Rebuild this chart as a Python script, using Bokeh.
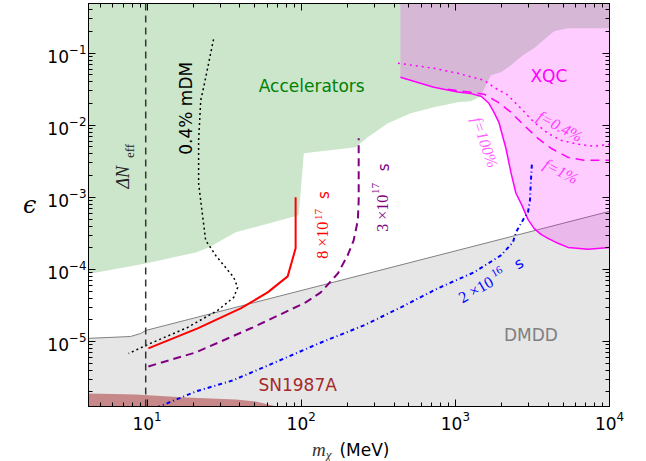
from bokeh.plotting import figure
from bokeh.models import Range1d, LogAxis, FixedTicker, LogTickFormatter, Label, Span, Div
from bokeh.layouts import column
from bokeh.embed import file_html
from bokeh.resources import INLINE

# ---------------- axis limits ----------------
x_lo, x_hi = 4.17, 1.0e4
y_lo, y_hi = 1.25e-6, 0.49
major_x = [1e1, 1e2, 1e3, 1e4]
major_y = [1e-5, 1e-4, 1e-3, 1e-2, 1e-1]

# ---------------- shaded regions ----------------
acc_m = [4.0, 9.8, 20.7, 25.1, 37.6, 96.4, 104, 226, 270, 365, 514, 725, 1037, 1262, 1466,
         1578, 1702, 1973, 2293, 2741, 3236, 4365, 5383, 11000, 11000, 4.0]
acc_eps = [8.5e-5, 1.21e-4, 1.72e-4, 2.02e-4, 3.27e-4, 5.62e-4, 4.08e-3, 4.95e-3, 6.81e-3,
           1.07e-2, 1.47e-2, 1.78e-2, 2.09e-2, 2.16e-2, 2.53e-2, 3.59e-2, 4.95e-2, 5.44e-2,
           6.81e-2, 9.38e-2, 0.117, 0.202, 0.222, 0.222, 1.0, 1.0]

dmdd_m = [4.0, 7.8, 9.1, 9.8, 1.0e4]
dmdd_eps = [1.10e-5, 1.17e-5, 1.29e-5, 1.42e-5, 6.39e-4]
dmdd_floor = 1.0e-6

sn_m = [4.0, 8.42, 17.8, 37.6, 50.7, 65.3, 73.6, 80.0, 4.0]
sn_eps = [1.90e-6, 1.84e-6, 1.67e-6, 1.56e-6, 1.47e-6, 1.29e-6, 1.21e-6, 1.0e-6, 1.0e-6]

xqc_m = [440, 725, 1037, 1262, 1466, 1651, 1778, 1916, 2128, 2293, 2471, 2704, 2958, 3236,
         3593, 3990, 4632, 5383, 7250, 10000]
xqc_eps = [0.0464, 0.0337, 0.029, 0.0275, 0.0253, 0.0202, 0.0152, 0.0110, 4.8e-3, 2.22e-3,
           1.14e-3, 7.74e-4, 4.95e-4, 3.71e-4, 3.06e-4, 2.70e-4, 2.30e-4, 2.02e-4, 1.90e-4, 2.02e-4]
xqc_top = 1.0

# XQC curves for smaller fractions
xqc04_m = [424, 725, 1037, 1532, 1778, 2193, 2661, 3236, 3990, 4842, 6237, 7925, 10000]
xqc04_eps = [0.0727, 0.0619, 0.0527, 0.0422, 0.0337, 0.0261, 0.0172, 0.0110, 7.74e-3,
             6.19e-3, 5.45e-3, 5.11e-3, 5.45e-3]
xqc1_m = [893, 1262, 1532, 1888, 2293, 2786, 3436, 4169, 5383, 6839, 10000]
xqc1_eps = [0.0316, 0.0287, 0.0270, 0.0209, 0.0152, 0.0100, 6.59e-3, 4.80e-3, 3.59e-3,
            3.27e-3, 3.27e-3]

# ---------------- lifetime / other curves ----------------
red_m = [10.2, 21.3, 40.5, 60.6, 81.7, 92.0, 92.0]
red_eps = [8.0e-6, 1.52e-5, 2.87e-5, 4.80e-5, 8.0e-5, 1.96e-4, 1.0e-3]

purple_m = [10.2, 20.7, 48.4, 107, 134, 173, 200, 219, 233, 236, 236]
purple_eps = [4.5e-6, 7.03e-6, 1.56e-5, 3.48e-5, 4.80e-5, 8.79e-5, 1.56e-4, 2.53e-4,
              4.80e-4, 9.08e-4, 6.59e-3]

blue_m = [11.5, 20.7, 35.9, 65.3, 130, 255, 443, 769, 1318, 1973, 2363, 2471, 2786, 2958,
          3048, 3092, 3140]
blue_eps = [1.2e-6, 2.02e-6, 2.87e-6, 4.95e-6, 9.38e-6, 1.67e-5, 2.97e-5, 5.45e-5, 9.08e-5,
            1.56e-4, 2.37e-4, 3.27e-4, 5.11e-4, 6.19e-4, 9.08e-4, 1.72e-3, 2.97e-3]

mdm_m = [27.0, 23.3, 22.3, 21.6, 21.6, 22.9, 24.0, 27.9, 36.5, 38.7, 36.5, 28.7, 18.3, 10.5, 7.59]
mdm_eps = [0.156, 0.0337, 0.0223, 6.19e-3, 1.56e-3, 5.62e-4, 2.53e-4, 1.56e-4, 7.74e-5,
           5.62e-5, 4.09e-5, 2.70e-5, 1.56e-5, 9.38e-6, 6.81e-6]

dneff_m = 9.8

# ---------------- figure ----------------
p = figure(x_axis_type="log", y_axis_type="log",
           x_range=Range1d(x_lo, x_hi), y_range=Range1d(y_lo, y_hi),
           frame_width=521, frame_height=403,
           min_border_left=88, min_border_right=30, min_border_top=3, min_border_bottom=28,
           output_backend="svg", toolbar_location=None)
p.grid.visible = False
p.outline_line_color = "black"
p.outline_line_width = 1
p.background_fill_color = "white"
p.border_fill_color = "white"

minor_x = [k * 10.0 ** e for e in range(0, 5) for k in range(2, 10)]
minor_y = [k * 10.0 ** e for e in range(-7, 1) for k in range(2, 10)]


def style_axis(ax, show_labels, standoff):
    ax.major_tick_in = 7
    ax.major_tick_out = 0
    ax.minor_tick_in = 4
    ax.minor_tick_out = 0
    ax.axis_line_color = "black"
    ax.major_tick_line_color = "black"
    ax.minor_tick_line_color = "black"
    ax.formatter = LogTickFormatter()
    if show_labels:
        ax.major_label_text_font = "DejaVu Sans"
        ax.major_label_text_font_size = "17px"
        ax.major_label_text_color = "black"
        ax.major_label_standoff = standoff
    else:
        ax.major_label_text_font_size = "1px"
        ax.major_label_text_alpha = 0
        ax.major_label_standoff = 0


for ax in p.xaxis:
    ax.ticker = FixedTicker(ticks=major_x, minor_ticks=minor_x)
    style_axis(ax, True, 4)
for ax in p.yaxis:
    ax.ticker = FixedTicker(ticks=major_y, minor_ticks=minor_y)
    style_axis(ax, True, 2)
    ax.axis_label = "ϵ"
    ax.axis_label_text_font = "DejaVu Serif"
    ax.axis_label_text_font_style = "italic"
    ax.axis_label_text_font_size = "24px"
    ax.axis_label_text_color = "black"
    ax.axis_label_standoff = 8
    if "axis_label_orientation" in ax.properties():
        ax.axis_label_orientation = "horizontal"

top_ax = LogAxis(ticker=FixedTicker(ticks=major_x, minor_ticks=minor_x))
style_axis(top_ax, False, 0)
p.add_layout(top_ax, "above")
right_ax = LogAxis(ticker=FixedTicker(ticks=major_y, minor_ticks=minor_y))
style_axis(right_ax, False, 0)
p.add_layout(right_ax, "right")

# ---------------- regions ----------------
p.patch(acc_m, acc_eps, fill_color="green", fill_alpha=0.2, line_color=None)
p.patch(dmdd_m + [dmdd_m[-1], dmdd_m[0]], dmdd_eps + [dmdd_floor, dmdd_floor],
        fill_color="gray", fill_alpha=0.2, line_color=None)
p.line(dmdd_m, dmdd_eps, line_color="gray", line_width=1)
p.patch(sn_m, sn_eps, fill_color="brown", fill_alpha=0.5, line_color=None)
p.patch(xqc_m + [xqc_m[-1], xqc_m[0]], xqc_eps + [xqc_top, xqc_top],
        fill_color="magenta", fill_alpha=0.2, line_color=None)

# ---------------- lines ----------------
p.add_layout(Span(location=dneff_m, dimension="height", line_color="#333333",
                  line_width=1.5, line_dash="7 5"))
p.line(mdm_m, mdm_eps, line_color="black", line_width=1.5, line_dash="2 3")
p.line(xqc_m, xqc_eps, line_color="magenta", line_width=1.5)
p.line(xqc04_m, xqc04_eps, line_color="magenta", line_width=1.5, line_dash="2 4")
p.line(xqc1_m, xqc1_eps, line_color="magenta", line_width=1.5, line_dash="9 6")
p.line(red_m, red_eps, line_color="red", line_width=2)
p.line(purple_m, purple_eps, line_color="purple", line_width=2, line_dash="8 5")
p.line(blue_m, blue_eps, line_color="blue", line_width=2, line_dash="4 3 1 3")


# ---------------- texts ----------------
def lab(x, y, text, color, size, font="DejaVu Sans", angle=0, style="normal",
        align="center", baseline="middle", alpha=1.0):
    p.add_layout(Label(x=x, y=y, text=text, text_color=color, text_font=font,
                       text_font_size=size, angle=angle, angle_units="deg",
                       text_font_style=style, text_align=align, text_baseline=baseline,
                       text_alpha=alpha))


lab(117, 0.0348, "Accelerators", "green", "17px")
lab(4045, 0.048, "XQC", "magenta", "17px")
lab(3090, 1.21e-5, "DMDD", "gray", "17px")
lab(94.8, 2.45e-6, "SN1987A", "brown", "17px")
lab(17.8, 0.0172, "0.4% mDM", "black", "17px", angle=90)

serif = "Liberation Serif"
lab(7.03, 1.90e-3, "ΔN", "#222222", "18px", font=serif, angle=90, style="italic")
lab(7.69, 4.40e-3, "eff", "#222222", "13px", font=serif, angle=90)

lab(137.9, 2.53e-4, "8 ×10", "red", "16px", font=serif, angle=90)
lab(129.9, 5.8e-4, "17", "red", "11px", font=serif, angle=90)
lab(140, 1.07e-3, "s", "red", "15px", angle=90)

lab(338, 6.0e-4, "3 ×10", "purple", "16px", font=serif, angle=90)
lab(305, 1.33e-3, "17", "purple", "11px", font=serif, angle=90)
lab(344, 2.61e-3, "s", "purple", "15px", angle=90)

lab(1358, 5.27e-5, "2 ×10", "blue", "16px", font=serif, angle=30)
lab(1858, 9.38e-5, "16", "blue", "11px", font=serif, angle=30)
lab(2583, 1.21e-4, "s", "blue", "15px", angle=30)

lab(1556, 5.81e-3, "f=100%", "magenta", "16px", font=serif, angle=-71, style="italic", alpha=0.65)
lab(4775, 9.68e-3, "f=0.4%", "magenta", "16px", font=serif, angle=-28, style="italic", alpha=0.75)
lab(4842, 2.30e-3, "f=1%", "magenta", "16px", font=serif, angle=-27, style="italic", alpha=0.75)

# x-axis title as real HTML text below the figure
x_title = Div(
    text=('<div style="padding-left:307px; padding-top:1px; white-space:nowrap; line-height:20px;'
          ' font-family:\'DejaVu Sans\'; font-size:17px; color:black;">'
          '<span style="font-family:\'Liberation Serif\'; font-style:italic; font-size:19px;'
          ' color:#333333;">m</span>'
          '<span style="font-family:\'Liberation Serif\'; font-style:italic; font-size:13px;'
          ' line-height:13px; color:#333333; vertical-align:-3px;">χ</span>'
          '<span style="padding-left:8px;">(MeV)</span></div>'),
    width=620, height=27)

layout = column(p, x_title, spacing=0)
open("out.html", "w").write(file_html(layout, INLINE))
